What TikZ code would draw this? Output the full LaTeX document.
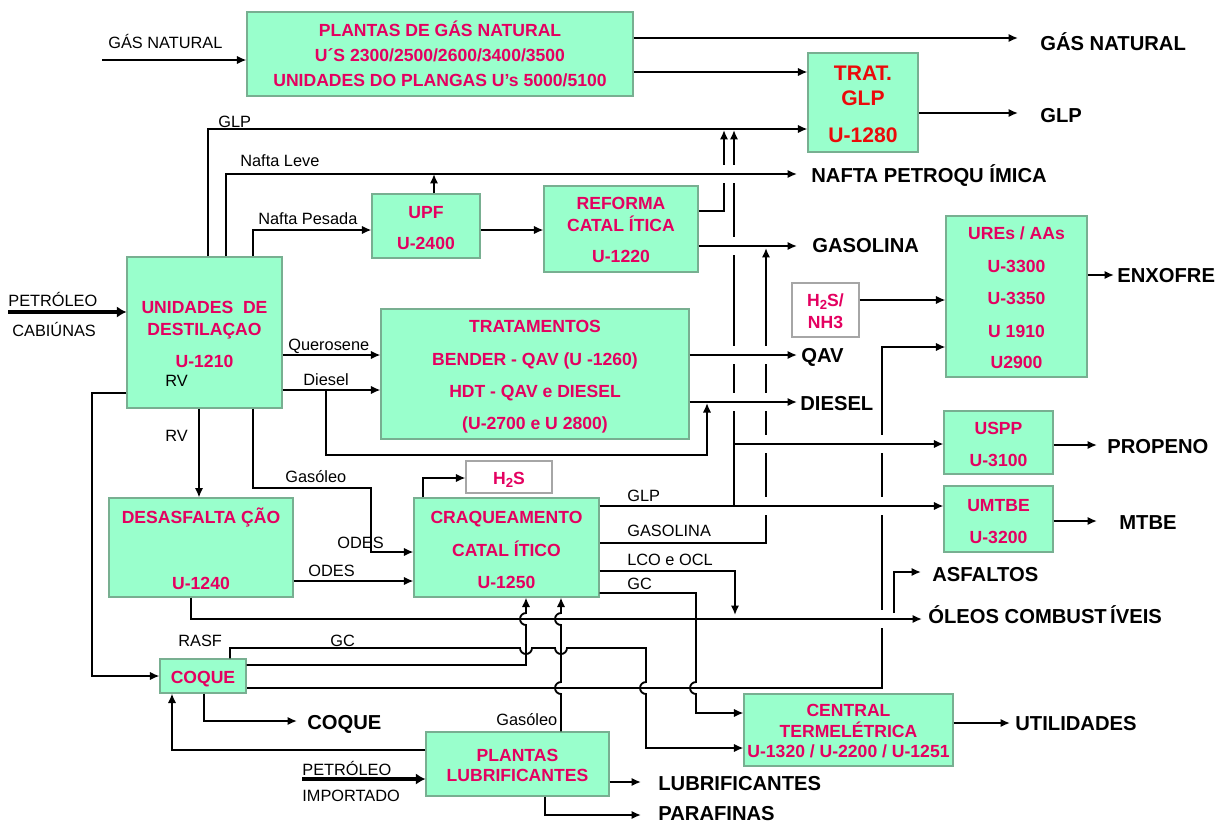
\documentclass[tikz,border=0pt]{standalone}
\usepackage{fontspec}
\setmainfont{Liberation Sans}
\usetikzlibrary{arrows.meta,fit}
\definecolor{boxfill}{RGB}{153,255,204}
\definecolor{boxline}{RGB}{120,175,145}
\definecolor{pk}{RGB}{228,0,96}
\definecolor{rd}{RGB}{235,10,10}
\pgfdeclarelayer{under}
\pgfdeclarelayer{gaps}
\pgfsetlayers{under,gaps,main}
\newcommand\gapv[2]{\fill[white] (#1-3,#2-9) rectangle (#1+3,#2+9);}
\newcommand\subtwo{\raisebox{-2.2pt}{\fontsize{7.5}{8}\selectfont 2}}
\begin{document}
\begin{tikzpicture}[x=0.02cm,y=-0.02cm,
  box/.style={draw=boxline, fill=boxfill, line width=0.6pt, inner sep=0pt},
  wbox/.style={draw=black!35, fill=white, line width=0.6pt, inner sep=0pt},
  bt/.style={font=\fontsize{10}{12}\selectfont\bfseries, text=pk, anchor=base, inner sep=0pt},
  rt/.style={font=\fontsize{12}{14}\selectfont\bfseries, text=rd, anchor=base, inner sep=0pt},
  ob/.style={font=\fontsize{11.5}{13}\selectfont\bfseries, anchor=base west, inner sep=0pt},
  sl/.style={font=\fontsize{9.3}{11}\selectfont, anchor=base west, inner sep=0pt},
  ln/.style={line width=1.05pt},
  arr/.style={ln, -{Latex[length=5.4pt,width=4.8pt]}},
  fat/.style={line width=2.4pt, -{Latex[length=5.5pt,width=6.5pt]}}]
\useasboundingbox (0,0) rectangle (1227,823);

% ---------- boxes ----------
\node[box, fit={(247,12) (633,96)}] (gn) {};
\node[box, fit={(808,53) (918,152)}] (tglp) {};
\node[box, fit={(127,257) (282,408)}] (dest) {};
\node[box, fit={(372,194) (480,258)}] (upf) {};
\node[box, fit={(544,186) (698,272)}] (ref) {};
\node[box, fit={(381,309) (689,439)}] (trat) {};
\node[wbox, fit={(792,283) (859,337)}] (hns) {};
\node[box, fit={(946,216) (1087,377)}] (ure) {};
\node[box, fit={(944,411) (1053,474)}] (uspp) {};
\node[box, fit={(944,486) (1053,552)}] (umtbe) {};
\node[wbox, fit={(466,461) (552,493)}] (hs) {};
\node[box, fit={(414,498) (599,597)}] (craq) {};
\node[box, fit={(109,498) (293,597)}] (desa) {};
\node[box, fit={(160,659) (246,693)}] (coq) {};
\node[box, fit={(426,732) (609,796)}] (lub) {};
\node[box, fit={(744,694) (953,766)}] (cte) {};

% ---------- box texts ----------
\node[bt] (gn1) at (gn.center |- 0,36) {PLANTAS DE GÁS NATURAL};
\node[bt] (gn2) at (gn.center |- 0,61) {U´S 2300/2500/2600/3400/3500};
\node[bt] (gn3) at (gn.center |- 0,86) {UNIDADES DO PLANGAS U’s 5000/5100};
\node[rt] (tg1) at (tglp.center |- 0,80) {TRAT.};
\node[rt] (tg2) at (tglp.center |- 0,105) {GLP};
\node[rt] (tg3) at (tglp.center |- 0,142) {U-1280};
\node[bt] (de1) at (dest.center |- 0,313) {UNIDADES\ \ DE};
\node[bt] (de2) at (dest.center |- 0,335) {DESTILAÇAO};
\node[bt] (de3) at (dest.center |- 0,367) {U-1210};
\node[sl] (rv1) at (165,386) {RV};
\node[bt] (up1) at (upf.center |- 0,218) {UPF};
\node[bt] (up2) at (upf.center |- 0,249) {U-2400};
\node[bt] (re1) at (ref.center |- 0,209) {REFORMA};
\node[bt] (re2) at (ref.center |- 0,231) {CATAL ÍTICA};
\node[bt] (re3) at (ref.center |- 0,262) {U-1220};
\node[bt] (tr1) at (trat.center |- 0,332) {TRATAMENTOS};
\node[bt] (tr2) at (trat.center |- 0,365) {BENDER - QAV (U -1260)};
\node[bt] (tr3) at (trat.center |- 0,397) {HDT - QAV e DIESEL};
\node[bt] (tr4) at (trat.center |- 0,429) {(U-2700 e U 2800)};
\node[bt] (hn1) at (hns.center |- 0,306) {H\subtwo S/};
\node[bt] (hn2) at (hns.center |- 0,328) {NH3};
\node[bt] (ur1) at (ure.center |- 0,239) {UREs / AAs};
\node[bt] (ur2) at (ure.center |- 0,272) {U-3300};
\node[bt] (ur3) at (ure.center |- 0,304) {U-3350};
\node[bt] (ur4) at (ure.center |- 0,337) {U 1910};
\node[bt] (ur5) at (ure.center |- 0,368) {U2900};
\node[bt] (us1) at (uspp.center |- 0,434) {USPP};
\node[bt] (us2) at (uspp.center |- 0,466) {U-3100};
\node[bt] (um1) at (umtbe.center |- 0,511) {UMTBE};
\node[bt] (um2) at (umtbe.center |- 0,543) {U-3200};
\node[bt] (hs1) at (hs.center |- 0,484) {H\subtwo S};
\node[bt] (cr1) at (craq.center |- 0,523) {CRAQUEAMENTO};
\node[bt] (cr2) at (craq.center |- 0,556) {CATAL ÍTICO};
\node[bt] (cr3) at (craq.center |- 0,588) {U-1250};
\node[bt] (ds1) at (desa.center |- 0,523) {DESASFALTA ÇÃO};
\node[bt] (ds2) at (desa.center |- 0,589) {U-1240};
\node[bt] (cq1) at (coq.center |- 0,683) {COQUE};
\node[bt] (lu1) at (lub.center |- 0,761) {PLANTAS};
\node[bt] (lu2) at (lub.center |- 0,781) {LUBRIFICANTES};
\node[bt] (ct1) at (cte.center |- 0,716) {CENTRAL};
\node[bt] (ct2) at (cte.center |- 0,737) {TERMELÉTRICA};
\node[bt] (ct3) at (cte.center |- 0,757) {U-1320 / U-2200 / U-1251};

% ---------- output labels ----------
\node[ob] (oGN) at (1040,50) {GÁS NATURAL};
\node[ob] (oGLP) at (1040,122) {GLP};
\node[ob] (oNaf) at (811,182) {NAFTA PETROQU ÍMICA};
\node[ob] (oGas) at (812,252) {GASOLINA};
\node[ob] (oEnx) at (1117,282) {ENXOFRE};
\node[ob] (oQAV) at (801,362) {QAV};
\node[ob] (oDie) at (800,410) {DIESEL};
\node[ob] (oPro) at (1107,453) {PROPENO};
\node[ob] (oMTB) at (1119,529) {MTBE};
\node[ob] (oAsf) at (932,581) {ASFALTOS};
\node[ob] (oOle) at (928,623) {ÓLEOS COMBUST\,ÍVEIS};
\node[ob] (oCoq) at (307,729) {COQUE};
\node[ob] (oUti) at (1015,730) {UTILIDADES};
\node[ob] (oLub) at (658,790) {LUBRIFICANTES};
\node[ob] (oPar) at (658,820) {PARAFINAS};

% ---------- small labels ----------
\node[sl] (lGN) at (108,48) {GÁS NATURAL};
\node[sl] (lGLP) at (218,127) {GLP};
\node[sl] (lNL) at (240,166) {Nafta Leve};
\node[sl] (lNP) at (258,224) {Nafta Pesada};
\node[sl] (lP1) at (8,306) {PETRÓLEO};
\node[sl] (lCab) at (12,336) {CABIÚNAS};
\node[sl] (lQue) at (288,350) {Querosene};
\node[sl] (lDie) at (303,385) {Diesel};
\node[sl] (lRV) at (165,441) {RV};
\node[sl] (lGo) at (285,482) {Gasóleo};
\node[sl] (lOd1) at (337,548) {ODES};
\node[sl] (lOd2) at (308,576) {ODES};
\node[sl] (lRA) at (178,646) {RASF};
\node[sl] (lGC1) at (330,646) {GC};
\node[sl] (lGLPc) at (627,501) {GLP};
\node[sl] (lGasc) at (627,536) {GASOLINA};
\node[sl] (lLCO) at (627,565) {LCO e OCL};
\node[sl] (lGC2) at (627,589) {GC};
\node[sl] (lGo2) at (496,725) {Gasóleo};
\node[sl] (lP2) at (302,775) {PETRÓLEO};
\node[sl] (lImp) at (302,801) {IMPORTADO};

% ---------- free end points ----------
\coordinate (iGN) at (102,60);
\coordinate (iP1) at (8,312);
\coordinate (iP2) at (302,779);
\coordinate (eGN) at (1018,38);
\coordinate (eGLP) at (1018,113);
\coordinate (eNaf) at (797,174);
\coordinate (eGas) at (797,246);
\coordinate (eQAV) at (797,355);
\coordinate (eDie) at (797,402);
\coordinate (eEnx) at (1114,275);
\coordinate (ePro) at (1097,445);
\coordinate (eMTB) at (1097,521);
\coordinate (eAsf) at (921,572);
\coordinate (eOle) at (922,619);
\coordinate (eCoq) at (297,721);
\coordinate (eUti) at (1010,723);
\coordinate (eLub) at (641,782);
\coordinate (ePar) at (641,815);

% ---------- lines passing under others ----------
\begin{pgfonlayer}{under}
\draw[arr] (ref.east |- 0,211) -| (724,130);
\draw[arr] (craq.east |- 0,506) -| (734,130);
\draw[arr] (craq.east |- 0,543) -| (766,248);
\draw[arr] (coq.east |- 0,688) -| (882,347) -- (ure.west |- 0,347);
\end{pgfonlayer}
\begin{pgfonlayer}{gaps}
\gapv{724}{174}
\gapv{734}{174}\gapv{734}{246}\gapv{734}{355}\gapv{734}{402}
\gapv{766}{355}\gapv{766}{402}\gapv{766}{444}\gapv{766}{506}
\gapv{882}{444}\gapv{882}{506}\gapv{882}{619}
\end{pgfonlayer}

% ---------- connectors ----------
\draw[arr] (iGN) -- (gn.west |- iGN);
\draw[arr] (gn.east |- eGN) -- (eGN);
\draw[arr] (gn.east |- 0,72) -- (tglp.west |- 0,72);
\draw[arr] (tglp.east |- eGLP) -- (eGLP);
\draw[arr] (dest.north -| 208,0) |- (tglp.west |- 0,129);
\draw[arr] (dest.north -| 226,0) |- (eNaf);
\draw[arr] (dest.north -| 253,0) |- (upf.west |- 0,230);
\draw[arr] (upf.north -| 434,0) -- (434,174);
\draw[arr] (upf.east |- 0,230) -- (ref.west |- 0,230);
\draw[arr] (ref.east |- eGas) -- (eGas);
\draw[fat] (iP1) -- (dest.west |- iP1);
\draw[arr] (dest.east |- 0,355) -- (trat.west |- 0,355);
\draw[arr] (dest.east |- 0,390) -- (trat.west |- 0,390);
\draw[arr] (326,390) |- (707,455) -- (707,403);
\draw[arr] (trat.east |- eQAV) -- (eQAV);
\draw[arr] (trat.east |- eDie) -- (eDie);
\draw[arr] (dest.south -| 199,0) -- (desa.north -| 199,0);
\draw[arr] (dest.west |- 0,393) -| (92,676) -- (coq.west |- 0,676);
\draw[arr] (dest.south -| 253,0) |- (371,488) |- (craq.west |- 0,552);
\draw[arr] (desa.east |- 0,581) -- (craq.west |- 0,581);
\draw[arr] (craq.north -| 423,0) |- (hs.west |- 0,478);
\draw[arr] (craq.east |- 0,506) -- (umtbe.west |- 0,506);
\draw[arr] (734,444) -- (uspp.west |- 0,444);
\draw[arr] (craq.east |- 0,571) -| (735,615);
\draw[arr] (craq.east |- 0,593) -| (696,682) arc[start angle=90,end angle=270,radius=0.12cm] |- (cte.west |- 0,713);
\draw[arr] (coq.north -| 230,0) |- (520,648) arc[start angle=180,end angle=360,radius=0.12cm] -- (555,648) arc[start angle=180,end angle=360,radius=0.12cm] -| (646,682) arc[start angle=90,end angle=270,radius=0.12cm] |- (cte.west |- 0,748);
\draw[arr] (coq.east |- 0,665) -| (526,625) arc[start angle=270,end angle=90,radius=0.12cm] -- (craq.south -| 526,0);
\draw[arr] (lub.north -| 561,0) -- (561,694) arc[start angle=270,end angle=90,radius=0.12cm] -- (561,625) arc[start angle=270,end angle=90,radius=0.12cm] -- (craq.south -| 561,0);
\draw[arr] (desa.south -| 191,0) |- (eOle);
\draw[arr] (894,613) |- (eAsf);
\draw[arr] (hns.east |- 0,300) -- (ure.west |- 0,300);
\draw[arr] (ure.east |- eEnx) -- (eEnx);
\draw[arr] (uspp.east |- ePro) -- (ePro);
\draw[arr] (umtbe.east |- eMTB) -- (eMTB);
\draw[arr] (cte.east |- eUti) -- (eUti);
\draw[arr] (lub.east |- eLub) -- (eLub);
\draw[arr] (lub.south -| 545,0) |- (ePar);
\draw[arr] (lub.west |- 0,750) -| (coq.south -| 172,0);
\draw[arr] (coq.south -| 204,0) |- (eCoq);
\draw[fat] (iP2) -- (lub.west |- iP2);
\end{tikzpicture}
\end{document}
